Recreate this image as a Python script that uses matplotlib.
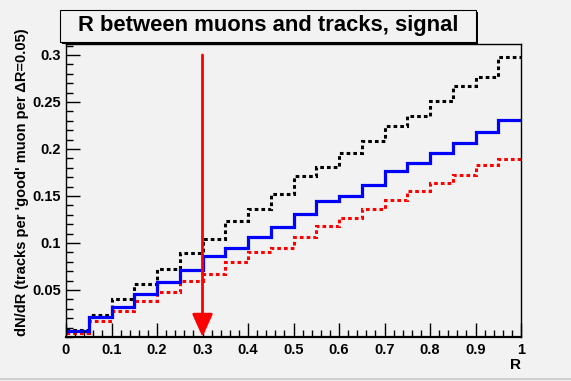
import numpy as np
import matplotlib

matplotlib.use("Agg")
import matplotlib.pyplot as plt
from matplotlib.patches import Rectangle
from matplotlib.ticker import MultipleLocator

plt.rcParams["font.family"] = ["Liberation Sans", "DejaVu Sans"]
plt.rcParams["font.weight"] = "bold"

# 20 bins of width 0.05 in R
bin_edges = np.linspace(0.0, 1.0, 21)
black_vals = [0.0075, 0.0234, 0.040, 0.056, 0.072, 0.0897, 0.104, 0.1234, 0.136, 0.152,
              0.171, 0.181, 0.1957, 0.2085, 0.2245, 0.2354, 0.2507, 0.267, 0.2766, 0.2979]
blue_vals = [0.0067, 0.0216, 0.032, 0.0454, 0.0589, 0.071, 0.0865, 0.0943, 0.1067, 0.1174,
             0.1305, 0.1447, 0.1504, 0.1617, 0.177, 0.1848, 0.1954, 0.2064, 0.2177, 0.2305]
red_vals = [0.004, 0.0174, 0.0277, 0.0387, 0.0475, 0.060, 0.067, 0.0794, 0.0908, 0.095,
            0.1067, 0.118, 0.1266, 0.1358, 0.1454, 0.155, 0.1642, 0.1723, 0.1826, 0.1894]
cut_r = 0.3
cut_top = 0.3

title = "R between muons and tracks, signal"
xlabel = "R"
ylabel = "dN/dR (tracks per 'good' muon per \u0394R=0.05)"
x_ticks = [0, 0.1, 0.2, 0.3, 0.4, 0.5, 0.6, 0.7, 0.8, 0.9, 1]
x_ticklabels = ["0", "0.1", "0.2", "0.3", "0.4", "0.5", "0.6", "0.7", "0.8", "0.9", "1"]
y_ticks = [0.05, 0.1, 0.15, 0.2, 0.25, 0.3]
y_ticklabels = ["0.05", "0.1", "0.15", "0.2", "0.25", "0.3"]

bg = "#f2f2f2"
fig = plt.figure(figsize=(5.71, 3.81), dpi=100, facecolor=bg)
ax = fig.add_axes([66 / 571, 44 / 381, 455 / 571, 293 / 381], facecolor=bg)

dots = (0, (1.2, 1.0))
ax.stairs(black_vals, bin_edges, baseline=None, color="black", lw=2.2, linestyle=dots)
ax.stairs(red_vals, bin_edges, baseline=None, color="red", lw=2.2, linestyle=dots)
ax.stairs(blue_vals, bin_edges, baseline=None, color="blue", lw=2.3)

ax.annotate("", xy=(cut_r, 0.0), xytext=(cut_r, cut_top),
            arrowprops=dict(arrowstyle="-|>,head_length=1.0,head_width=0.45",
                            color="red", lw=2, shrinkA=0, shrinkB=0, mutation_scale=14))

ax.set_xlim(0, 1)
ax.set_ylim(0, 0.3117)
ax.set_xticks(x_ticks, x_ticklabels)
ax.set_yticks(y_ticks, y_ticklabels)
ax.xaxis.set_minor_locator(MultipleLocator(0.02))
ax.yaxis.set_minor_locator(MultipleLocator(0.01))
ax.tick_params(which="both", direction="in", top=False, right=False, labelsize=10.5)
ax.tick_params(which="major", length=10, width=1)
ax.tick_params(which="minor", length=5, width=1)
ax.tick_params(axis="x", pad=4)
for lab in ax.get_xticklabels() + ax.get_yticklabels():
    lab.set_fontweight("bold")
for sp in ax.spines.values():
    sp.set_linewidth(1.0)
ax.spines["bottom"].set_linewidth(1.6)

ax.set_xlabel(xlabel, fontsize=11, fontweight="bold", loc="right", labelpad=1)
fig.text(22 / 571, 0.5 + 8 / 381, ylabel, rotation=90, ha="center", va="center",
         fontsize=10.5, fontweight="bold")

# title box with ROOT-like shadow
fig.patches.append(Rectangle((62 / 571, (381 - 44) / 381), 416 / 571, 32 / 381,
                             transform=fig.transFigure, facecolor="black",
                             edgecolor="none", zorder=1))
fig.patches.append(Rectangle((60 / 571, (381 - 42) / 381), 416 / 571, 32 / 381,
                             transform=fig.transFigure, facecolor=bg,
                             edgecolor="black", lw=0.8, zorder=2))
fig.text(268 / 571, (381 - 26) / 381, title, ha="center", va="center",
         fontsize=15.8, fontweight="bold", zorder=3)

# canvas bottom border
fig.add_artist(plt.Line2D([0, 1], [2.5 / 381, 2.5 / 381], transform=fig.transFigure,
                          color="#cfcfcf", lw=1.5))

fig.savefig("out.png", dpi=100, facecolor=bg)
